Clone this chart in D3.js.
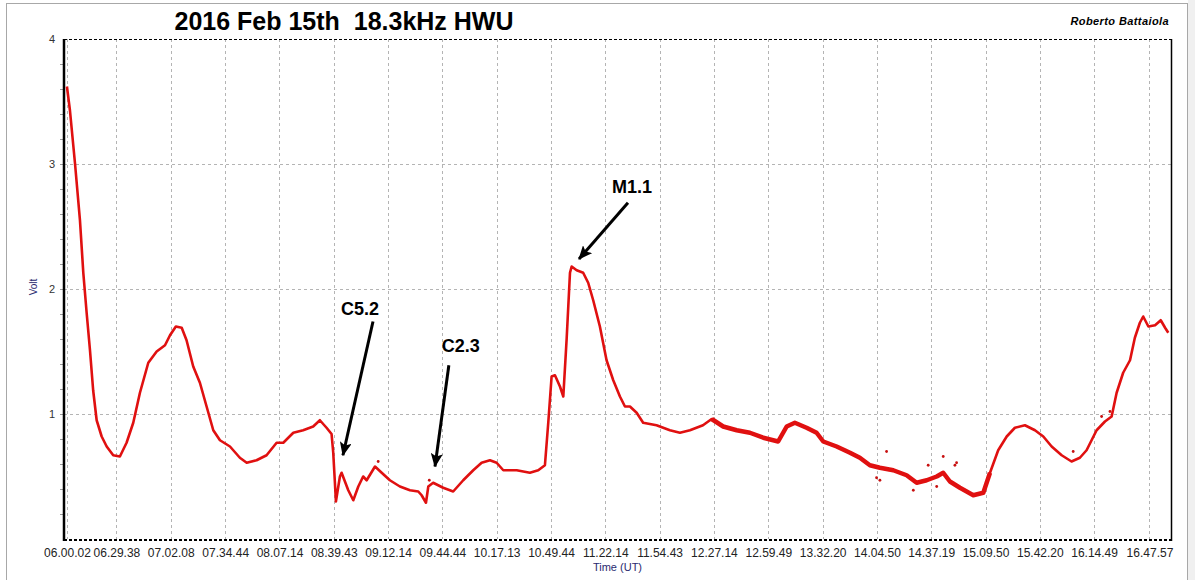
<!DOCTYPE html>
<html>
<head>
<meta charset="utf-8">
<script src="https://cdn.jsdelivr.net/npm/d3@7"></script>
<style>
  body { margin: 0; background: #fff; }
  svg { display: block; }
  text { font-family: Arial, "Liberation Sans", sans-serif; }
</style>
</head>
<body>
<svg width="1195" height="580"></svg>
<script>
// VLF signal, minutes after 06:00 UT and the volts read at that time
var minutesUT = [0,1.8,4.8,7.8,9.8,11.8,13.8,15.7,17.8,20.8,
  23.8,27.7,31.7,35.7,39.7,43.7,48.7,53.7,58.7,61.7,
  65.2,68.7,71.6,75.6,79.6,83.6,87.6,91.6,97.6,103.5,
  107.6,113.5,119.5,125.5,129.5,135.5,141.4,147.4,151.4,155.4,
  158.4,159.4,160.4,161.0,163.4,164.4,168.4,171.4,174.4,177.3,
  179.4,184.4,188.4,193.3,199.3,205.3,210.3,212.3,214.9,216.3,
  219.2,225.2,231.2,237.2,243.2,248.2,253.2,257.2,261.2,269.2,
  277.1,282.1,286.1,288.1,290.1,292.1,295.1,297.1,299.1,301.1,
  302.1,305.1,309.0,312.0,315.0,319.0,323.0,327.0,331.0,334.0,
  337.0,341.0,344.9,352.9,360.9,366.9,372.9,380.7,385.9,392.8,
  400.9,408.8,416.8,425.7,430.8,435.7,442.7,448.7,452.7,460.7,
  468.7,474.6,480.6,486.6,494.6,502.6,508.6,514.6,520.6,524.5,
  528.5,534.5,542.5,548.5,552.5,557.4,562.5,567.4,573.4,579.4,
  584.4,589.4,595.4,601.3,606.3,610.3,616.3,621.3,625.3,628.3,
  632.2,636.3,639.2,642.2,644.2,647.3,651.3,654.7,657.3,659.2];

var volts = [3.62,3.43,3.01,2.55,2.13,1.81,1.51,1.19,0.95,0.82,
  0.74,0.67,0.66,0.77,0.93,1.17,1.41,1.50,1.55,1.63,
  1.70,1.69,1.59,1.38,1.25,1.06,0.87,0.79,0.74,0.65,
  0.61,0.63,0.67,0.77,0.77,0.85,0.87,0.90,0.95,0.89,
  0.84,0.69,0.45,0.30,0.50,0.53,0.39,0.31,0.42,0.50,
  0.47,0.58,0.53,0.47,0.42,0.39,0.38,0.35,0.29,0.42,
  0.45,0.41,0.38,0.47,0.55,0.61,0.63,0.61,0.55,0.55,
  0.53,0.55,0.59,0.93,1.30,1.31,1.22,1.14,1.60,2.13,
  2.18,2.15,2.13,2.05,1.91,1.70,1.43,1.27,1.14,1.06,
  1.06,1.01,0.93,0.91,0.87,0.85,0.87,0.91,0.96,0.90,
  0.87,0.85,0.81,0.78,0.90,0.93,0.89,0.85,0.78,0.74,
  0.69,0.65,0.59,0.57,0.55,0.51,0.45,0.47,0.50,0.53,
  0.46,0.41,0.35,0.37,0.53,0.71,0.82,0.89,0.91,0.87,
  0.82,0.74,0.67,0.62,0.65,0.71,0.87,0.94,0.98,1.17,
  1.33,1.43,1.61,1.73,1.78,1.70,1.71,1.75,1.69,1.65];

// stray samples off the main trace
var strayMinutes = [186.3,216.9,484.6,486.6,490.6,506.6,515.5,520.6,524.5,531.5,532.5,602.3,619.3,624.3];
var strayVolts   = [0.62,0.47,0.49,0.47,0.70,0.39,0.59,0.42,0.66,0.59,0.61,0.70,0.98,1.02];

// x tick labels (UT)
var timeTicks = ["06.00.02","06.29.38","07.02.08","07.34.44","08.07.14","08.39.43","09.12.14",
  "09.44.44","10.17.13","10.49.44","11.22.14","11.54.43","12.27.14","12.59.49","13.32.20",
  "14.04.50","14.37.19","15.09.50","15.42.20","16.14.49","16.47.57"];
var voltTicks = [1, 2, 3, 4];

// flare annotations: arrow tip and tail in time/volt
var flareLabels = ["C5.2", "C2.3", "M1.1"];
var flareTip    = [["08.45.12", 0.67], ["09.40.18", 0.58], ["11.06.30", 2.24]];
var flareTail   = [["09.03.12", 1.74], ["09.48.36", 1.39], ["11.35.48", 2.69]];

var day = "2016-02-15 ";
var parseT = d3.utcParse("%Y-%m-%d %H.%M.%S");
var base = parseT(day + "06.00.00");
function fromMin(m) { return new Date(base.getTime() + m * 60000); }

var svg = d3.select("svg");
var plotL = 64, plotR = 1171, plotT = 39, plotB = 539;

// outer frame
svg.append("rect").attr("x", 1188).attr("y", 0).attr("width", 10).attr("height", 580).attr("fill", "#f0f0f0");
svg.append("rect")
  .attr("x", 6.5).attr("y", 3.5).attr("width", 1181).attr("height", 600)
  .attr("fill", "#fff").attr("stroke", "#a8a8a8");

var x = d3.scaleUtc()
  .domain([parseT(day + "05.58.15"), parseT(day + "17.00.50")])
  .range([plotL, plotR]);
var y = d3.scaleLinear().domain([0, 4]).range([plotB, plotT]);

var tickDates = timeTicks.map(function (t) { return parseT(day + t); });

// grid
svg.append("g").selectAll("line").data(tickDates).enter().append("line")
  .attr("x1", function (d) { return Math.round(x(d)) + 0.5; })
  .attr("x2", function (d) { return Math.round(x(d)) + 0.5; })
  .attr("y1", plotT).attr("y2", plotB)
  .attr("stroke", "#b4b4b4").attr("stroke-dasharray", "3,3");
svg.append("g").selectAll("line").data(voltTicks.slice(0, 3)).enter().append("line")
  .attr("x1", plotL).attr("x2", plotR)
  .attr("y1", function (d) { return Math.round(y(d)) + 0.5; })
  .attr("y2", function (d) { return Math.round(y(d)) + 0.5; })
  .attr("stroke", "#b4b4b4").attr("stroke-dasharray", "3,3");

// y axis with minor ticks
var yAxis = d3.axisLeft(y).tickValues(voltTicks).tickSize(0).tickPadding(9).tickFormat(d3.format("d"));
var gy = svg.append("g").attr("transform", "translate(" + plotL + ",0)").call(yAxis);
gy.select(".domain").remove();
gy.selectAll("text").attr("font-size", 11).attr("fill", "#333").attr("font-family", "Arial, sans-serif");
svg.append("g").selectAll("line").data(d3.range(1, 20).map(function (i) { return i * 0.2; })).enter().append("line")
  .attr("x1", plotL - 4).attr("x2", plotL)
  .attr("y1", function (d) { return Math.round(y(d)) + 0.5; })
  .attr("y2", function (d) { return Math.round(y(d)) + 0.5; })
  .attr("stroke", "#999");

// x axis labels
var xAxis = d3.axisBottom(x).tickValues(tickDates).tickSize(0).tickPadding(9)
  .tickFormat(function (d, i) { return timeTicks[i]; });
var gx = svg.append("g").attr("transform", "translate(0," + plotB + ")").call(xAxis);
gx.select(".domain").remove();
gx.selectAll("text").attr("font-size", 12).attr("fill", "#222").attr("font-family", "Arial, sans-serif");

// plot frame
svg.append("line").attr("x1", plotL).attr("x2", plotR).attr("y1", plotT + 0.5).attr("y2", plotT + 0.5)
  .attr("stroke", "#000").attr("stroke-dasharray", "3,2");
svg.append("line").attr("x1", plotL).attr("x2", plotR).attr("y1", plotB + 1).attr("y2", plotB + 1)
  .attr("stroke", "#000").attr("stroke-width", 2).attr("stroke-dasharray", "3,2");
svg.append("line").attr("x1", plotL).attr("x2", plotL).attr("y1", plotT).attr("y2", plotB + 2)
  .attr("stroke", "#000").attr("stroke-width", 2.5);
svg.append("line").attr("x1", plotR + 0.5).attr("x2", plotR + 0.5).attr("y1", plotT).attr("y2", plotB + 2)
  .attr("stroke", "#000").attr("stroke-width", 1.5);

// axis titles
svg.append("text").attr("transform", "translate(37,287) rotate(-90)")
  .attr("text-anchor", "middle").attr("font-size", 10).attr("fill", "#2a2a70").text("Volt");
svg.append("text").attr("x", (plotL + plotR) / 2).attr("y", 571)
  .attr("text-anchor", "middle").attr("font-size", 11).attr("fill", "#2a2a70").text("Time (UT)");

// titles
svg.append("text").attr("x", 344).attr("y", 30).attr("text-anchor", "middle")
  .attr("font-size", 25).attr("font-weight", "bold").style("white-space", "pre")
  .text("2016 Feb 15th  18.3kHz HWU");
svg.append("text").attr("x", 1169).attr("y", 25).attr("text-anchor", "end")
  .attr("font-size", 11).attr("font-weight", "bold").attr("font-style", "italic")
  .attr("font-family", "'DejaVu Sans', sans-serif").attr("letter-spacing", 0.4)
  .text("Roberto Battaiola");

// signal
var data = minutesUT.map(function (m, i) { return { t: fromMin(m), v: volts[i], m: m }; });
var line = d3.line().x(function (d) { return x(d.t); }).y(function (d) { return y(d.v); });

svg.append("path").datum(data).attr("d", line)
  .attr("fill", "none").attr("stroke", "#e01010").attr("stroke-width", 2.6).attr("stroke-linejoin", "round");
// noisier stretch drawn thicker
svg.append("path").datum(data.filter(function (d) { return d.m >= 385 && d.m <= 556; })).attr("d", line)
  .attr("fill", "none").attr("stroke", "#e01010").attr("stroke-width", 4.5).attr("stroke-linejoin", "round");

svg.append("g").selectAll("circle").data(strayMinutes).enter().append("circle")
  .attr("cx", function (d) { return x(fromMin(d)); })
  .attr("cy", function (d, i) { return y(strayVolts[i]); })
  .attr("r", 1.4).attr("fill", "#c81010");

// flare arrows
svg.append("defs").append("marker")
  .attr("id", "head").attr("markerUnits", "userSpaceOnUse")
  .attr("viewBox", "0 0 14 12").attr("refX", 13).attr("refY", 6)
  .attr("markerWidth", 14).attr("markerHeight", 12).attr("orient", "auto")
  .append("path").attr("d", "M0,0 L14,6 L0,12 L3,6 Z").attr("fill", "#000");

var labelShift = [[-13, -7], [12, -13], [4, -10]];
flareLabels.forEach(function (lab, i) {
  var x1 = x(parseT(day + flareTail[i][0])), y1 = y(flareTail[i][1]);
  var x2 = x(parseT(day + flareTip[i][0])), y2 = y(flareTip[i][1]);
  svg.append("line").attr("x1", x1).attr("y1", y1).attr("x2", x2).attr("y2", y2)
    .attr("stroke", "#000").attr("stroke-width", 3).attr("marker-end", "url(#head)");
  svg.append("text").attr("x", x1 + labelShift[i][0]).attr("y", y1 + labelShift[i][1])
    .attr("text-anchor", "middle").attr("font-size", 18).attr("font-weight", "bold").text(lab);
});
</script>
</body>
</html>
